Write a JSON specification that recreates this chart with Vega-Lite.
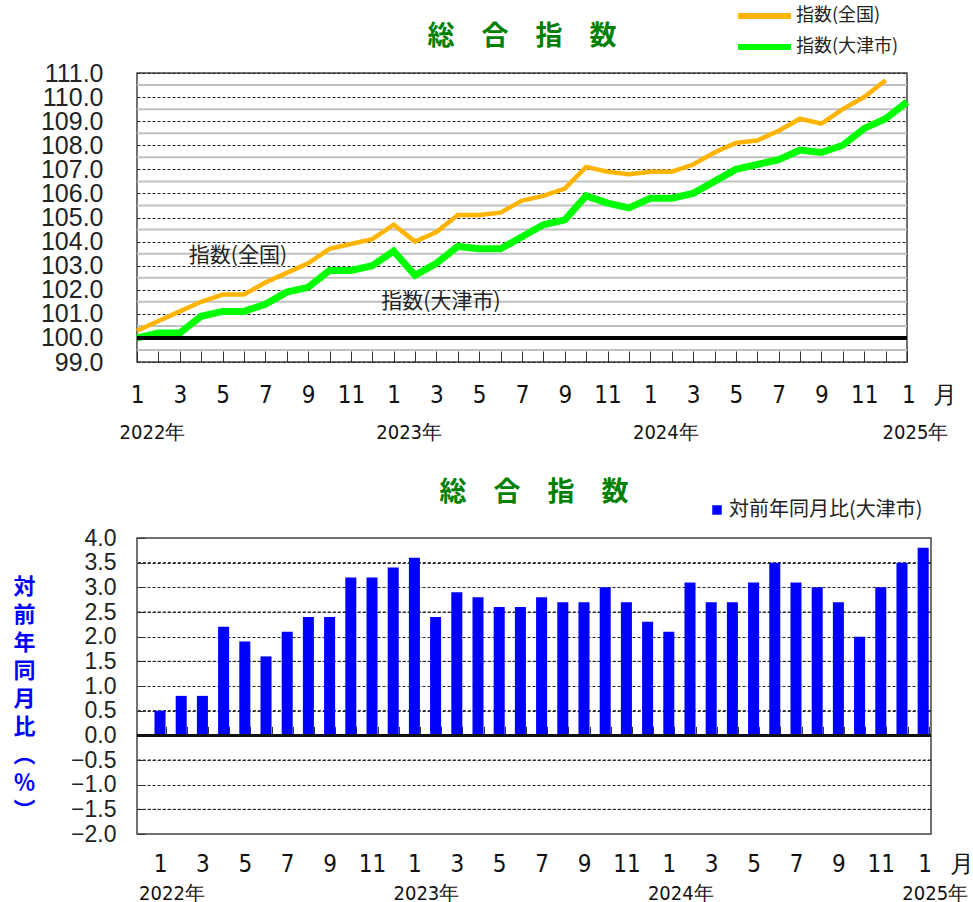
{
  "$schema": "https://vega.github.io/schema/vega-lite/v6.json",
  "background": "white",
  "padding": {"left": 12, "top": 6, "right": 2, "bottom": 2},
  "config": {"view": {"stroke": "#444", "strokeWidth": 1.5}, "font": "Liberation Sans"},
  "spacing": 35,
  "resolve": {"scale": {"color": "independent"}, "legend": {"color": "independent"}},
  "datasets": {
    "idx": [
      {"ym": "2022-01", "series": "指数(全国)", "value": 100.3},
      {"ym": "2022-02", "series": "指数(全国)", "value": 100.7},
      {"ym": "2022-03", "series": "指数(全国)", "value": 101.1},
      {"ym": "2022-04", "series": "指数(全国)", "value": 101.5},
      {"ym": "2022-05", "series": "指数(全国)", "value": 101.8},
      {"ym": "2022-06", "series": "指数(全国)", "value": 101.8},
      {"ym": "2022-07", "series": "指数(全国)", "value": 102.3},
      {"ym": "2022-08", "series": "指数(全国)", "value": 102.7},
      {"ym": "2022-09", "series": "指数(全国)", "value": 103.1},
      {"ym": "2022-10", "series": "指数(全国)", "value": 103.7},
      {"ym": "2022-11", "series": "指数(全国)", "value": 103.9},
      {"ym": "2022-12", "series": "指数(全国)", "value": 104.1},
      {"ym": "2023-01", "series": "指数(全国)", "value": 104.7},
      {"ym": "2023-02", "series": "指数(全国)", "value": 104.0},
      {"ym": "2023-03", "series": "指数(全国)", "value": 104.4},
      {"ym": "2023-04", "series": "指数(全国)", "value": 105.1},
      {"ym": "2023-05", "series": "指数(全国)", "value": 105.1},
      {"ym": "2023-06", "series": "指数(全国)", "value": 105.2},
      {"ym": "2023-07", "series": "指数(全国)", "value": 105.7},
      {"ym": "2023-08", "series": "指数(全国)", "value": 105.9},
      {"ym": "2023-09", "series": "指数(全国)", "value": 106.2},
      {"ym": "2023-10", "series": "指数(全国)", "value": 107.1},
      {"ym": "2023-11", "series": "指数(全国)", "value": 106.9},
      {"ym": "2023-12", "series": "指数(全国)", "value": 106.8},
      {"ym": "2024-01", "series": "指数(全国)", "value": 106.9},
      {"ym": "2024-02", "series": "指数(全国)", "value": 106.9},
      {"ym": "2024-03", "series": "指数(全国)", "value": 107.2},
      {"ym": "2024-04", "series": "指数(全国)", "value": 107.7},
      {"ym": "2024-05", "series": "指数(全国)", "value": 108.1},
      {"ym": "2024-06", "series": "指数(全国)", "value": 108.2},
      {"ym": "2024-07", "series": "指数(全国)", "value": 108.6},
      {"ym": "2024-08", "series": "指数(全国)", "value": 109.1},
      {"ym": "2024-09", "series": "指数(全国)", "value": 108.9},
      {"ym": "2024-10", "series": "指数(全国)", "value": 109.5},
      {"ym": "2024-11", "series": "指数(全国)", "value": 110.0},
      {"ym": "2024-12", "series": "指数(全国)", "value": 110.7},
      {"ym": "2022-01", "series": "指数(大津市)", "value": 100.0},
      {"ym": "2022-02", "series": "指数(大津市)", "value": 100.2},
      {"ym": "2022-03", "series": "指数(大津市)", "value": 100.2},
      {"ym": "2022-04", "series": "指数(大津市)", "value": 100.9},
      {"ym": "2022-05", "series": "指数(大津市)", "value": 101.1},
      {"ym": "2022-06", "series": "指数(大津市)", "value": 101.1},
      {"ym": "2022-07", "series": "指数(大津市)", "value": 101.4},
      {"ym": "2022-08", "series": "指数(大津市)", "value": 101.9},
      {"ym": "2022-09", "series": "指数(大津市)", "value": 102.1},
      {"ym": "2022-10", "series": "指数(大津市)", "value": 102.8},
      {"ym": "2022-11", "series": "指数(大津市)", "value": 102.8},
      {"ym": "2022-12", "series": "指数(大津市)", "value": 103.0},
      {"ym": "2023-01", "series": "指数(大津市)", "value": 103.6},
      {"ym": "2023-02", "series": "指数(大津市)", "value": 102.6},
      {"ym": "2023-03", "series": "指数(大津市)", "value": 103.1},
      {"ym": "2023-04", "series": "指数(大津市)", "value": 103.8},
      {"ym": "2023-05", "series": "指数(大津市)", "value": 103.7},
      {"ym": "2023-06", "series": "指数(大津市)", "value": 103.7},
      {"ym": "2023-07", "series": "指数(大津市)", "value": 104.2},
      {"ym": "2023-08", "series": "指数(大津市)", "value": 104.7},
      {"ym": "2023-09", "series": "指数(大津市)", "value": 104.9},
      {"ym": "2023-10", "series": "指数(大津市)", "value": 105.9},
      {"ym": "2023-11", "series": "指数(大津市)", "value": 105.6},
      {"ym": "2023-12", "series": "指数(大津市)", "value": 105.4},
      {"ym": "2024-01", "series": "指数(大津市)", "value": 105.8},
      {"ym": "2024-02", "series": "指数(大津市)", "value": 105.8},
      {"ym": "2024-03", "series": "指数(大津市)", "value": 106.0},
      {"ym": "2024-04", "series": "指数(大津市)", "value": 106.5},
      {"ym": "2024-05", "series": "指数(大津市)", "value": 107.0},
      {"ym": "2024-06", "series": "指数(大津市)", "value": 107.2},
      {"ym": "2024-07", "series": "指数(大津市)", "value": 107.4},
      {"ym": "2024-08", "series": "指数(大津市)", "value": 107.8},
      {"ym": "2024-09", "series": "指数(大津市)", "value": 107.7},
      {"ym": "2024-10", "series": "指数(大津市)", "value": 108.0},
      {"ym": "2024-11", "series": "指数(大津市)", "value": 108.7},
      {"ym": "2024-12", "series": "指数(大津市)", "value": 109.1},
      {"ym": "2025-01", "series": "指数(大津市)", "value": 109.8}
    ],
    "notes": [
      {"ym": "2022-03", "value": 103.4, "label": "指数(全国)"},
      {"ym": "2022-12", "value": 101.5, "label": "指数(大津市)"}
    ],
    "halfgrid": [
      {"v": 99.5}, {"v": 100.5}, {"v": 101.5}, {"v": 102.5}, {"v": 103.5}, {"v": 104.5},
      {"v": 105.5}, {"v": 106.5}, {"v": 107.5}, {"v": 108.5}, {"v": 109.5}, {"v": 110.5}
    ],
    "halfgrid2": [
      {"v": -1.5}, {"v": -0.5}, {"v": 0.5}, {"v": 1.5}, {"v": 2.5}, {"v": 3.5}
    ],
    "yoy": [
      {"ym": "2022-01", "series": "対前年同月比(大津市)", "value": 0.5},
      {"ym": "2022-02", "series": "対前年同月比(大津市)", "value": 0.8},
      {"ym": "2022-03", "series": "対前年同月比(大津市)", "value": 0.8},
      {"ym": "2022-04", "series": "対前年同月比(大津市)", "value": 2.2},
      {"ym": "2022-05", "series": "対前年同月比(大津市)", "value": 1.9},
      {"ym": "2022-06", "series": "対前年同月比(大津市)", "value": 1.6},
      {"ym": "2022-07", "series": "対前年同月比(大津市)", "value": 2.1},
      {"ym": "2022-08", "series": "対前年同月比(大津市)", "value": 2.4},
      {"ym": "2022-09", "series": "対前年同月比(大津市)", "value": 2.4},
      {"ym": "2022-10", "series": "対前年同月比(大津市)", "value": 3.2},
      {"ym": "2022-11", "series": "対前年同月比(大津市)", "value": 3.2},
      {"ym": "2022-12", "series": "対前年同月比(大津市)", "value": 3.4},
      {"ym": "2023-01", "series": "対前年同月比(大津市)", "value": 3.6},
      {"ym": "2023-02", "series": "対前年同月比(大津市)", "value": 2.4},
      {"ym": "2023-03", "series": "対前年同月比(大津市)", "value": 2.9},
      {"ym": "2023-04", "series": "対前年同月比(大津市)", "value": 2.8},
      {"ym": "2023-05", "series": "対前年同月比(大津市)", "value": 2.6},
      {"ym": "2023-06", "series": "対前年同月比(大津市)", "value": 2.6},
      {"ym": "2023-07", "series": "対前年同月比(大津市)", "value": 2.8},
      {"ym": "2023-08", "series": "対前年同月比(大津市)", "value": 2.7},
      {"ym": "2023-09", "series": "対前年同月比(大津市)", "value": 2.7},
      {"ym": "2023-10", "series": "対前年同月比(大津市)", "value": 3.0},
      {"ym": "2023-11", "series": "対前年同月比(大津市)", "value": 2.7},
      {"ym": "2023-12", "series": "対前年同月比(大津市)", "value": 2.3},
      {"ym": "2024-01", "series": "対前年同月比(大津市)", "value": 2.1},
      {"ym": "2024-02", "series": "対前年同月比(大津市)", "value": 3.1},
      {"ym": "2024-03", "series": "対前年同月比(大津市)", "value": 2.7},
      {"ym": "2024-04", "series": "対前年同月比(大津市)", "value": 2.7},
      {"ym": "2024-05", "series": "対前年同月比(大津市)", "value": 3.1},
      {"ym": "2024-06", "series": "対前年同月比(大津市)", "value": 3.5},
      {"ym": "2024-07", "series": "対前年同月比(大津市)", "value": 3.1},
      {"ym": "2024-08", "series": "対前年同月比(大津市)", "value": 3.0},
      {"ym": "2024-09", "series": "対前年同月比(大津市)", "value": 2.7},
      {"ym": "2024-10", "series": "対前年同月比(大津市)", "value": 2.0},
      {"ym": "2024-11", "series": "対前年同月比(大津市)", "value": 3.0},
      {"ym": "2024-12", "series": "対前年同月比(大津市)", "value": 3.5},
      {"ym": "2025-01", "series": "対前年同月比(大津市)", "value": 3.8}
    ]
  },
  "vconcat": [
    {
      "width": 770,
      "height": 289,
      "data": {"name": "idx"},
      "title": {"text": "総　合　指　数", "font": "Noto Sans CJK JP", "fontSize": 27, "fontWeight": "bold", "color": "#008000", "frame": "group", "anchor": "middle", "offset": -44},
      "layer": [
        {
          "data": {"name": "halfgrid"},
          "mark": {"type": "rule", "color": "#c0c0c0", "strokeWidth": 2},
          "encoding": {
            "y": {"field": "v", "type": "quantitative", "scale": {"domain": [99, 111], "nice": false, "zero": false}, "axis": null}
          }
        },
        {
          "mark": {"type": "line"},
          "encoding": {
            "x": {
              "field": "ym", "type": "ordinal",
              "scale": {"type": "point", "padding": 0},
              "axis": {
                "title": null, "labelAngle": 0, "labelOverlap": false, "orient": "bottom",
                "labelExpr": "toNumber(substring(datum.value,5,7)) % 2 === 1 ? (datum.value === '2025-01' ? '1\u2002\u00a0月' : toNumber(substring(datum.value,5,7)) + '') : ''",
                "labelAlign": {"condition": {"test": "datum.value === '2025-01'", "value": "left"}, "value": "center"},
                "labelOffset": {"condition": {"test": "datum.value === '2025-01'", "value": -5.5}, "value": 0},
                "labelFont": "Liberation Sans Narrow, DejaVu Sans Condensed, sans-serif",
                "labelFontSize": 24, "labelColor": "#111",
                "labelPadding": 32, "tickSize": -11, "tickColor": "#333", "tickWidth": 1,
                "domain": false, "grid": false
              }
            },
            "y": {
              "field": "value", "type": "quantitative",
              "scale": {"domain": [99, 111], "nice": false, "zero": false},
              "axis": {
                "values": [99, 99.5, 100, 100.5, 101, 101.5, 102, 102.5, 103, 103.5, 104, 104.5, 105, 105.5, 106, 106.5, 107, 107.5, 108, 108.5, 109, 109.5, 110, 110.5, 111],
                "tickCount": 24,
                "title": null,
                "labelExpr": "datum.value % 1 === 0 ? format(datum.value, '.1f') : ''",
                "labelFont": "Liberation Sans", "labelFontSize": 25, "labelColor": "#222", "labelOverlap": false,
                "labelPadding": 39,
                "tickSize": -5,
                "tickColor": {"condition": {"test": "datum.value % 1 === 0", "value": "transparent"}, "value": "#333"},
                "domain": false,
                "grid": true,
                "gridColor": {"condition": {"test": "datum.value % 1 === 0", "value": "#222"}, "value": "#c0c0c0"},
                "gridDash": {"condition": {"test": "datum.value % 1 === 0", "value": [3, 2]}, "value": []},
                "gridWidth": {"condition": {"test": "datum.value % 1 === 0", "value": 1}, "value": 2}
              }
            },
            "color": {
              "field": "series", "type": "nominal",
              "scale": {"domain": ["指数(全国)", "指数(大津市)"], "range": ["#FFB400", "#00FF00"]},
              "legend": {
                "orient": "none", "legendX": 598, "legendY": -66, "title": null,
                "symbolType": "stroke", "symbolSize": 2809, "symbolStrokeWidth": 6,
                "labelFont": "Noto Sans CJK JP", "labelFontSize": 18, "labelColor": "#222", "labelLimit": 300,
                "clipHeight": 18, "rowPadding": 13, "labelOffset": 2
              }
            },
            "strokeWidth": {
              "field": "series", "type": "nominal",
              "scale": {"domain": ["指数(全国)", "指数(大津市)"], "range": [4.5, 7]},
              "legend": null
            }
          }
        },
        {
          "mark": {"type": "rule", "color": "#000000", "strokeWidth": 3},
          "encoding": {"y": {"datum": 100, "type": "quantitative", "scale": {"domain": [99, 111], "nice": false, "zero": false}, "axis": null}}
        },
        {
          "mark": {"type": "point", "opacity": 0},
          "encoding": {
            "x": {
              "field": "ym", "type": "ordinal",
              "axis": {
                "title": null, "labelAngle": 0, "labelOverlap": false, "orient": "bottom",
                "labelExpr": "substring(datum.value,5,7) === '01' ? substring(datum.value,0,4) + '年' : ''",
                "labelOffset": {"condition": {"test": "datum.value === '2025-01'", "value": 8}, "value": 15},
                "labelFont": "Liberation Sans Narrow, DejaVu Sans Condensed, sans-serif",
                "labelFontSize": 20, "labelColor": "#111",
                "labelPadding": 60, "ticks": false, "domain": false, "grid": false
              }
            }
          }
        },
        {
          "data": {"name": "notes"},
          "mark": {"type": "text", "align": "left", "baseline": "middle", "dx": 9, "font": "Noto Sans CJK JP", "fontSize": 21, "color": "#222"},
          "encoding": {
            "x": {"field": "ym", "type": "ordinal", "axis": null},
            "y": {"field": "value", "type": "quantitative", "scale": {"domain": [99, 111], "nice": false, "zero": false}, "axis": null},
            "text": {"field": "label"}
          }
        }
      ],
      "resolve": {"axis": {"x": "independent", "y": "independent"}}
    },
    {
      "width": 794,
      "height": 296,
      "data": {"name": "yoy"},
      "title": {"text": "総　合　指　数", "font": "Noto Sans CJK JP", "fontSize": 27, "fontWeight": "bold", "color": "#008000", "frame": "group", "anchor": "middle", "offset": -7},
      "layer": [
        {
          "data": {"name": "halfgrid2"},
          "mark": {"type": "rule", "color": "#222222", "strokeWidth": 1, "strokeDash": [3, 2]},
          "encoding": {
            "y": {"field": "v", "type": "quantitative", "scale": {"domain": [-2, 4], "nice": false, "zero": false}, "axis": null}
          }
        },
        {
          "mark": {"type": "bar"},
          "encoding": {
            "x": {
              "field": "ym", "type": "ordinal",
              "scale": {"type": "band", "paddingInner": 0.48, "paddingOuter": 0.467, "align": 0.884},
              "axis": {
                "title": null, "labelAngle": 0, "labelOverlap": false, "orient": "bottom",
                "labelExpr": "toNumber(substring(datum.value,5,7)) % 2 === 1 ? (datum.value === '2025-01' ? '1\u2002\u00a0月' : toNumber(substring(datum.value,5,7)) + '') : ''",
                "labelAlign": {"condition": {"test": "datum.value === '2025-01'", "value": "left"}, "value": "center"},
                "labelOffset": {"condition": {"test": "datum.value === '2025-01'", "value": -5.5}, "value": 0},
                "labelFont": "Liberation Sans Narrow, DejaVu Sans Condensed, sans-serif",
                "labelFontSize": 24, "labelColor": "#111",
                "offset": -98.67, "tickBand": "extent", "tickSize": -9, "tickColor": "#333",
                "labelPadding": 126, "domain": false, "grid": false
              }
            },
            "y": {
              "field": "value", "type": "quantitative",
              "scale": {"domain": [-2, 4], "nice": false, "zero": false},
              "axis": null
            },
            "color": {
              "field": "series", "type": "nominal",
              "scale": {"domain": ["対前年同月比(大津市)"], "range": ["#0000FF"]},
              "legend": {
                "orient": "none", "legendX": 570, "legendY": -38, "title": null,
                "symbolType": "square", "symbolSize": 90, "symbolStrokeWidth": 0, "symbolOpacity": 1,
                "labelFont": "Noto Sans CJK JP", "labelFontSize": 20, "labelColor": "#222", "labelOffset": 2, "labelLimit": 300
              }
            }
          }
        },
        {
          "mark": {"type": "rule", "color": "#111111", "strokeWidth": 2},
          "encoding": {
            "y": {
              "datum": 0, "type": "quantitative",
              "scale": {"domain": [-8, 16], "nice": false, "zero": false},
              "axis": {
                "orient": "left",
                "labelExpr": "format(datum.value / 4, '.1f')",
                "labelFont": "Liberation Sans", "labelFontSize": 23, "labelColor": "#222", "labelOverlap": false,
                "labelPadding": 29, "tickSize": -8, "tickColor": "#333",
                "domain": false, "grid": true, "gridColor": "#222", "gridDash": [3, 2], "gridWidth": 1,
                "gridOpacity": {"condition": {"test": "datum.value === 16 || datum.value === -8", "value": 0}, "value": 1},
                "title": ["対", "前", "年", "同", "月", "比", "︵", "％", "︶"],
                "titleAngle": 0, "titleX": -113, "titleY": 38, "titleAlign": "center", "titleBaseline": "top",
                "titleFont": "Noto Sans CJK JP", "titleFontSize": 22, "titleFontWeight": "bold",
                "titleColor": "#0000FF", "titleLineHeight": 28
              }
            }
          }
        },
        {
          "mark": {"type": "tick", "opacity": 0},
          "encoding": {
            "x": {
              "field": "ym", "type": "ordinal",
              "axis": {
                "title": null, "labelAngle": 0, "labelOverlap": false, "orient": "bottom",
                "labelExpr": "substring(datum.value,5,7) === '01' ? substring(datum.value,0,4) + '年' : ''",
                "labelOffset": 12,
                "labelFont": "Liberation Sans Narrow, DejaVu Sans Condensed, sans-serif",
                "labelFontSize": 20, "labelColor": "#111",
                "labelPadding": 49, "ticks": false, "domain": false, "grid": false
              }
            }
          }
        }
      ],
      "resolve": {"scale": {"y": "independent"}, "axis": {"x": "independent", "y": "independent"}}
    }
  ]
}
